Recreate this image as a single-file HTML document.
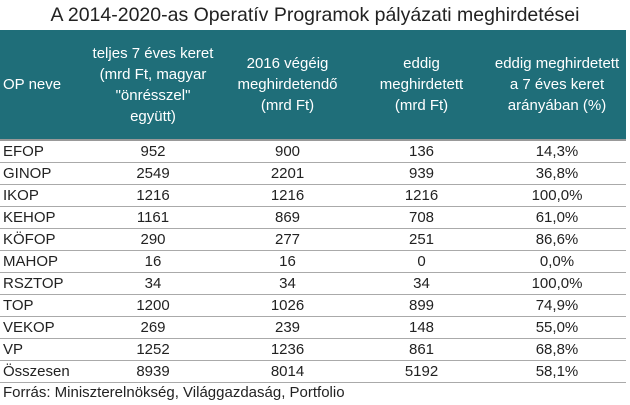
<!DOCTYPE html>
<html><head><meta charset="utf-8"><style>
body{margin:0;width:630px;height:405px;background:#fff;font-family:"Liberation Sans",sans-serif;color:#222;overflow:hidden}
#title{position:absolute;left:0;top:4px;width:630px;text-align:center;font-size:19.5px;color:#222;white-space:nowrap}
table{position:absolute;left:0;top:30px;width:626px;border-collapse:collapse;font-size:15px;table-layout:fixed}
th{background:#1f6e79;color:#fff;font-weight:normal;height:109px;line-height:21px;padding:0 1px;white-space:nowrap}
th:first-child{text-align:left;padding-left:3px}
td{height:21px;border-bottom:1px solid #aaa;text-align:center;padding:0}
td:first-child{text-align:left;padding-left:3px}
thead tr{border-bottom:2px solid #999}
#src{position:absolute;left:3px;top:384px;font-size:15px;white-space:nowrap}
</style></head><body>
<div id="title">A 2014-2020-as Operatív Programok pályázati meghirdetései</div>
<table>
<colgroup><col style="width:86px"><col style="width:134px"><col style="width:135px"><col style="width:133px"><col style="width:138px"></colgroup>
<thead><tr>
<th>OP neve</th>
<th>teljes 7 éves keret<br>(mrd Ft, magyar<br>"önrésszel"<br>együtt)</th>
<th>2016 végéig<br>meghirdetendő<br>(mrd Ft)</th>
<th>eddig<br>meghirdetett<br>(mrd Ft)</th>
<th>eddig meghirdetett<br>a 7 éves keret<br>arányában (%)</th>
</tr></thead>
<tbody id="tb"></tbody>
</table>
<div id="src">Forrás: Miniszterelnökség, Világgazdaság, Portfolio</div>
<script>
const names=["EFOP","GINOP","IKOP","KEHOP","KÖFOP","MAHOP","RSZTOP","TOP","VEKOP","VP","Összesen"];
const totals=[952,2549,1216,1161,290,16,34,1200,269,1252,8939];
const planned=[900,2201,1216,869,277,16,34,1026,239,1236,8014];
const announced=[136,939,1216,708,251,0,34,899,148,861,5192];
const ratios=["14,3%","36,8%","100,0%","61,0%","86,6%","0,0%","100,0%","74,9%","55,0%","68,8%","58,1%"];
const tb=document.getElementById('tb');
names.forEach((n,i)=>{
const tr=document.createElement('tr');


[n,totals[i],planned[i],announced[i],ratios[i]].forEach((v,j)=>{
const td=document.createElement('td');


td.textContent=v;tr.appendChild(td);});
tb.appendChild(tr);});
</script>
</body></html>
